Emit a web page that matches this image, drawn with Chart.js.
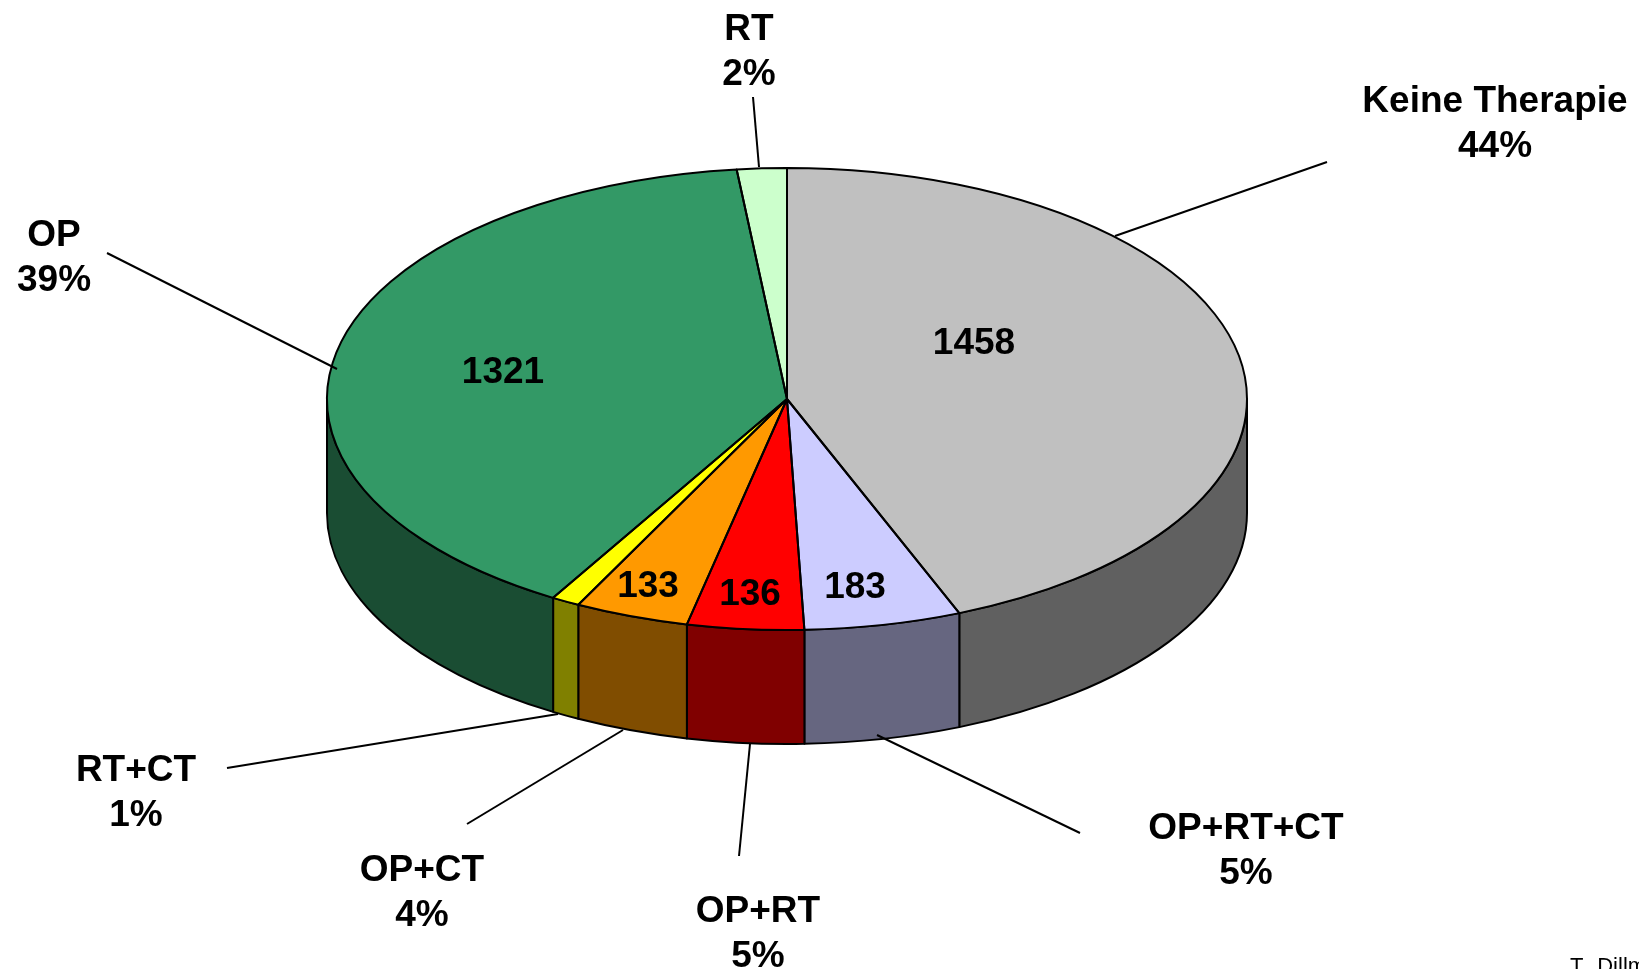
<!DOCTYPE html>
<html>
<head>
<meta charset="utf-8">
<title>Therapie</title>
<script src="https://cdn.jsdelivr.net/npm/chart.js@4"></script>
<style>
html,body{margin:0;padding:0;background:#fff;overflow:hidden}
canvas{display:block}
</style>
</head>
<body>
<canvas id="c" width="1639" height="969"></canvas>
<script>
// Data, clockwise from 12 o'clock
const categories = ["Keine Therapie", "OP+RT+CT", "OP+RT", "OP+CT", "RT+CT", "OP", "RT"];
const values = [1458, 183, 136, 133, 33, 1321, 58];
const percentLabels = ["44%", "5%", "5%", "4%", "1%", "39%", "2%"];
const valueLabels = ["1458", "183", "136", "133", "", "1321", ""];
const topColors = ["#C0C0C0", "#CCCCFF", "#FF0000", "#FF9900", "#FFFF00", "#339966", "#CCFFCC"];
const sideColors = ["#606060", "#666680", "#800000", "#804D00", "#808000", "#1A4D33", "#668066"];
const creditText = "T. Dillmann";

// Layout (kept apart from the data)
const tilt = 0.502, depth = 114, screenCY = 399, strokeW = 2;
const FONT = 'bold 37px "Liberation Sans", Arial, sans-serif';
const categoryLayout = [
  {x:1495, y:112, line:[1327,162,1115,236]},
  {x:1246, y:839, line:[1080,833,877,735]},
  {x:758,  y:922, line:[739,856,750,744]},
  {x:422,  y:881, line:[467,824,623,730]},
  {x:136,  y:781, line:[227,768,558,714]},
  {x:54,   y:246, line:[107,253,337,369]},
  {x:749,  y:40,  line:[753,97,759,167]}
];
const valueLayout = [
  {x:974,y:354},{x:855,y:598},{x:750,y:605},{x:648,y:597},null,{x:503,y:383},null
];

function norm(a){ let t = a % (2*Math.PI); if (t < -Math.PI/2) t += 2*Math.PI; return t; }

const pie3d = {
  id: 'pie3d',
  beforeDatasetsDraw(chart) {
    const ctx = chart.ctx, arcs = chart.getDatasetMeta(0).data;
    const a0 = arcs[0], cx = a0.x, r = a0.outerRadius, ry = r * tilt;
    // outer wall, only the front half of each slice is visible
    ctx.save();
    ctx.lineWidth = strokeW; ctx.strokeStyle = '#000'; ctx.lineJoin = 'round';
    arcs.forEach((el, i) => {
      const s = Math.max(norm(el.startAngle), 0);
      const eRaw = norm(el.startAngle) + (el.endAngle - el.startAngle);
      const e = Math.min(eRaw, Math.PI);
      if (e <= s) return;
      ctx.beginPath();
      ctx.ellipse(cx, screenCY, r, ry, 0, s, e, false);
      ctx.ellipse(cx, screenCY + depth, r, ry, 0, e, s, true);
      ctx.closePath();
      ctx.fillStyle = sideColors[i];
      ctx.fill();
      ctx.stroke();
    });
    ctx.restore();
    // squash the library's own arcs into the tilted top face
    ctx.save();
    ctx.translate(cx, screenCY);
    ctx.scale(1, tilt);
    ctx.translate(-cx, -a0.y);
  },
  afterDatasetsDraw(chart) {
    const ctx = chart.ctx, arcs = chart.getDatasetMeta(0).data;
    ctx.restore();
    const a0 = arcs[0], cx = a0.x, r = a0.outerRadius, ry = r * tilt;
    ctx.save();
    ctx.lineWidth = strokeW; ctx.strokeStyle = '#000'; ctx.lineJoin = 'round';
    arcs.forEach(el => {
      ctx.beginPath();
      ctx.moveTo(cx, screenCY);
      ctx.lineTo(cx + r * Math.cos(el.startAngle), screenCY + ry * Math.sin(el.startAngle));
      ctx.ellipse(cx, screenCY, r, ry, 0, el.startAngle, el.endAngle, false);
      ctx.closePath();
      ctx.stroke();
    });
    ctx.restore();
  },
  afterDraw(chart) {
    const ctx = chart.ctx;
    ctx.save();
    ctx.fillStyle = '#000'; ctx.strokeStyle = '#000'; ctx.lineWidth = strokeW;
    ctx.textAlign = 'center'; ctx.textBaseline = 'alphabetic';
    ctx.font = FONT;
    categories.forEach((name, i) => {
      const p = categoryLayout[i], l = p.line;
      ctx.beginPath(); ctx.moveTo(l[0], l[1]); ctx.lineTo(l[2], l[3]); ctx.stroke();
      ctx.fillText(name, p.x, p.y);
      ctx.fillText(percentLabels[i], p.x, p.y + 45);
      if (valueLayout[i]) ctx.fillText(valueLabels[i], valueLayout[i].x, valueLayout[i].y);
    });
    ctx.textAlign = 'left';
    ctx.font = '22px "Liberation Sans", Arial, sans-serif';
    ctx.wordSpacing = '4px';
    ctx.fillText(creditText, 1570, 973);
    ctx.restore();
  }
};

new Chart(document.getElementById('c'), {
  type: 'pie',
  data: {
    labels: categories,
    datasets: [{ data: values, backgroundColor: topColors, borderWidth: 0, hoverOffset: 0 }]
  },
  options: {
    responsive: false,
    animation: false,
    devicePixelRatio: 1,
    rotation: 0,
    layout: { padding: { left: 327, right: 392, top: 0, bottom: 49 } },
    plugins: { legend: { display: false }, tooltip: { enabled: false }, title: { display: false } },
    events: []
  },
  plugins: [pie3d]
});
</script>
</body>
</html>
